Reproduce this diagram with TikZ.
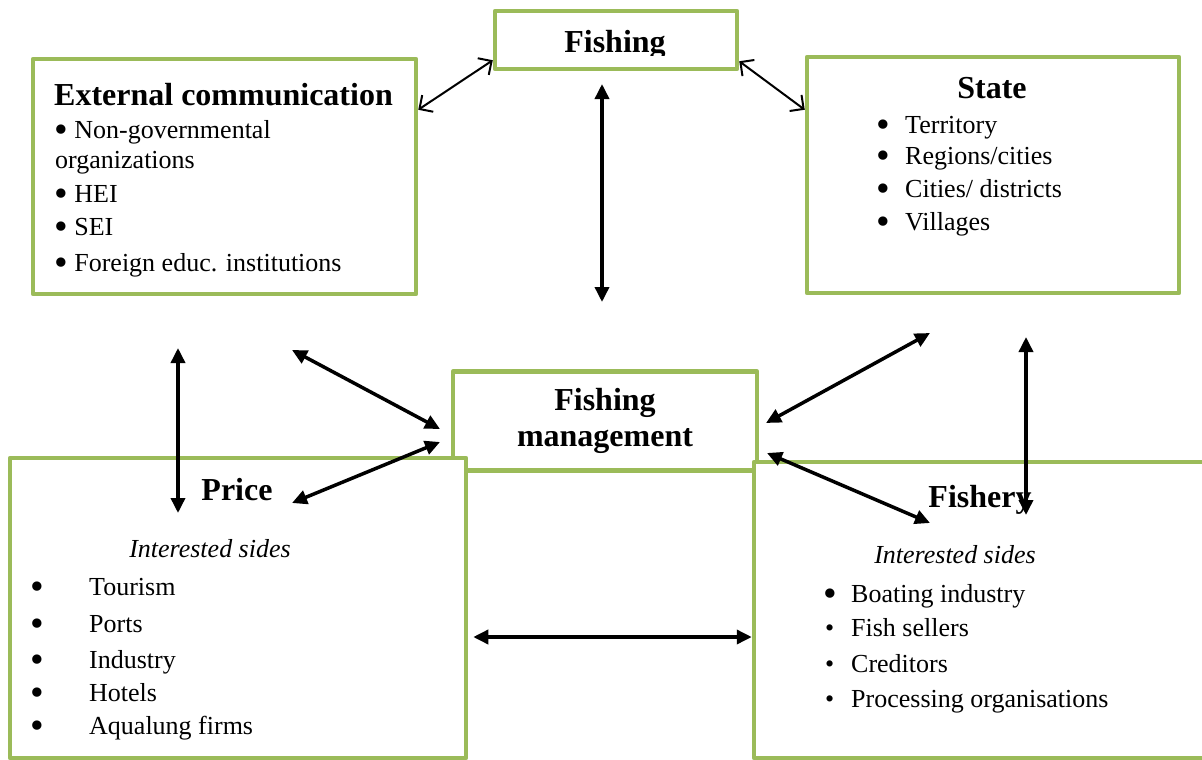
\documentclass[tikz,border=0pt]{standalone}
\usepackage{fontspec}
\setmainfont{Liberation Serif}
\usetikzlibrary{arrows.meta, positioning}
\definecolor{boxgreen}{RGB}{155,187,89}
\newcommand{\bodysize}{\fontsize{26}{30}\selectfont}
\newcommand{\bigbul}{\raisebox{-0.18em}{\scalebox{1.5}{\textbullet}}}
\tikzset{
	box/.style={draw=boxgreen, line width=4.5pt, fill=white, inner sep=0pt, line join=round},
	boxtitle/.style={font=\fontsize{32}{36}\selectfont\bfseries, inner sep=0pt},
	boxitem/.style={font=\bodysize, anchor=base west, inner sep=0pt},
	thinarrow/.style={{Straight Barb[length=10pt,width=20pt]}-{Straight Barb[length=10pt,width=20pt]}, line width=2pt},
	thickarrow/.style={{Triangle[length=15pt,width=14pt]}-{Triangle[length=15pt,width=14pt]}, line width=3.5pt},
}
\begin{document}
\begin{tikzpicture}[x=1pt, y=-1pt]
	\clip (0,0) rectangle (1202,760);
	
	% top row
	\node[box, minimum width=242pt, minimum height=58pt] (fishing) at (616,40) {};
	\begin{scope}
		\clip (495,11) rectangle (737,56);
		\node[boxtitle, anchor=base] (fishingtxt) at (615,53) {Fishing};
	\end{scope}
	
	\node[box, minimum width=383pt, minimum height=235pt] (ext) at (224.5,176.5) {};
	\node[boxtitle, anchor=base] (exttitle) at (223.5,106) {External communication};
	\node[boxitem] (ext1) at (54,138) {\bigbul\ Non-governmental};
	\node[boxitem] (ext2) at (55,168) {organizations};
	\node[boxitem] (ext3) at (54,202) {\bigbul\ HEI};
	\node[boxitem] (ext4) at (54,235) {\bigbul\ SEI};
	\node[boxitem] (ext5) at (54,271) {\bigbul\ Foreign educ. institutions};
	
	\node[box, minimum width=372pt, minimum height=236pt] (state) at (993,175) {};
	\node[boxtitle, anchor=base] (statetitle) at (992,98) {State};
	\node[boxitem] (state1) at (876,133) {\makebox[29pt][l]{\bigbul}Territory};
	\node[boxitem] (state2) at (876,164) {\makebox[29pt][l]{\bigbul}Regions/cities};
	\node[boxitem] (state3) at (876,197) {\makebox[29pt][l]{\bigbul}Cities/ districts};
	\node[boxitem] (state4) at (876,230) {\makebox[29pt][l]{\bigbul}Villages};
	
	% bottom row
	\node[box, boxtitle, minimum width=304pt, minimum height=99pt, align=center] (mgmt) at (605,421) {Fishing\\management};
	
	\node[box, minimum width=456pt, minimum height=300pt] (price) at (238,608) {};
	\node[boxtitle, anchor=base] (pricetitle) at (237,500) {Price};
	\node[boxitem, anchor=base] (pricesub) at (210,557) {\itshape Interested sides};
	\node[boxitem] (price1) at (30,595) {\makebox[59pt][l]{\bigbul}Tourism};
	\node[boxitem] (price2) at (30,632) {\makebox[59pt][l]{\bigbul}Ports};
	\node[boxitem] (price3) at (30,668) {\makebox[59pt][l]{\bigbul}Industry};
	\node[boxitem] (price4) at (30,701) {\makebox[59pt][l]{\bigbul}Hotels};
	\node[boxitem] (price5) at (30,734) {\makebox[59pt][l]{\bigbul}Aqualung firms};
	
	\node[box, minimum width=461pt, minimum height=296pt] (fishery) at (984.5,610) {};
	\node[boxtitle, anchor=base] (fisherytitle) at (980,507) {Fishery};
	\node[boxitem, anchor=base] (fisherysub) at (955,563) {\itshape Interested sides};
	\node[boxitem] (fishery1) at (823,602) {\makebox[28pt][l]{\bigbul}Boating industry};
	\node[boxitem] (fishery2) at (825,636) {\makebox[26pt][l]{\textbullet}Fish sellers};
	\node[boxitem] (fishery3) at (825,672) {\makebox[26pt][l]{\textbullet}Creditors};
	\node[boxitem] (fishery4) at (825,707) {\makebox[26pt][l]{\textbullet}Processing organisations};
	
	% free arrow ends
	\coordinate (fishS) at (602,84);
	\coordinate (mgmtN) at (602,302);
	\coordinate (extS) at (178,348);
	\coordinate (priceN) at (178,513);
	\coordinate (extSE) at (292,350);
	\coordinate (mgmtW1) at (440,429);
	\coordinate (mgmtW2) at (440,442);
	\coordinate (priceNE) at (292,503);
	\coordinate (stateSW) at (930,333);
	\coordinate (mgmtE1) at (766,423);
	\coordinate (stateS) at (1026,337);
	\coordinate (fisheryN) at (1026,515);
	\coordinate (mgmtE2) at (767,453);
	\coordinate (fisheryNW) at (930,523);
	
	% connectors
	\draw[thinarrow] ([yshift=-53pt]ext.north east) -- ([yshift=11pt]fishing.south west);
	\draw[thinarrow] ([yshift=10pt]fishing.south east) -- ([yshift=-55pt]state.north west);
	\draw[thickarrow] (fishS) -- (mgmtN);
	\draw[thickarrow] (extS) -- (priceN);
	\draw[thickarrow] (extSE) -- (mgmtW1);
	\draw[thickarrow] (mgmtW2) -- (priceNE);
	\draw[thickarrow] (stateSW) -- (mgmtE1);
	\draw[thickarrow] (stateS) -- (fisheryN);
	\draw[thickarrow] (mgmtE2) -- (fisheryNW);
	\draw[thickarrow] ([shift={(5pt,-29pt)}]price.east) -- ([yshift=-27pt]fishery.west);
\end{tikzpicture}
\end{document}
